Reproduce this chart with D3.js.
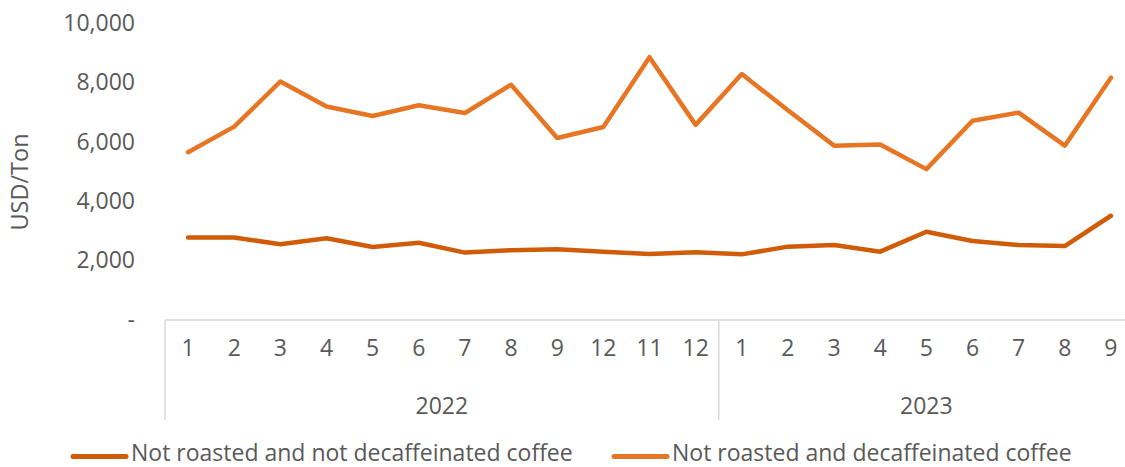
<!DOCTYPE html>
<html><head><meta charset="utf-8">
<script src="https://cdn.jsdelivr.net/npm/d3@7"></script>
<style>body{margin:0;background:#fff}svg{display:block}text{font-family:"Open Sans",sans-serif;fill:#595959}</style>
</head><body><svg id="c" width="1125" height="467"></svg>
<script>
const months = ["1","2","3","4","5","6","7","8","9","12","11","12","1","2","3","4","5","6","7","8","9"];
const years = [{label:"2022", count:12},{label:"2023", count:9}];
const seriesNames = ["Not roasted and not decaffeinated coffee","Not roasted and decaffeinated coffee"];
const notDecaf = [2780,2780,2550,2750,2460,2600,2270,2350,2380,2300,2220,2280,2210,2470,2525,2300,2970,2660,2525,2490,3510];
const decaf = [5650,6510,8030,7190,6870,7230,6970,7920,6130,6500,8850,6570,8280,7060,5870,5910,5080,6710,6980,5870,8160];
const yTicks = [0,2000,4000,6000,8000,10000];
const colors = ["#D15C08","#E77624"];

(function(){
const svg = d3.select("#c");
const mLeft = 165, mRight = 1134, mTop = 23, mBottom = 320;
const fs = "23px";
const x = d3.scaleBand().domain(d3.range(months.length)).range([mLeft,mRight]);
const y = d3.scaleLinear().domain([0,10000]).range([mBottom,mTop]);
const cx = i => x(i) + x.bandwidth()/2;

const yAxis = d3.axisLeft(y).tickValues(yTicks).tickSize(0).tickPadding(30)
  .tickFormat(d => d===0 ? "-" : d3.format(",")(d));
const ga = svg.append("g").attr("transform",`translate(${mLeft},0)`).call(yAxis);
ga.select(".domain").remove();
ga.selectAll("text").style("font-size",fs).attr("fill","#595959").style("font-family","Open Sans");

svg.append("text").attr("transform","translate(28,182) rotate(-90)")
  .attr("text-anchor","middle").style("font-size","23.5px").text("USD/Ton");

const axisColor = "#d9d9d9";
svg.append("line").attr("x1",mLeft).attr("x2",mRight).attr("y1",mBottom).attr("y2",mBottom)
  .attr("stroke",axisColor).attr("stroke-width",1.5);
const xa = d3.axisBottom(x).tickSize(0).tickPadding(20).tickFormat(i => months[i]);
const gx = svg.append("g").attr("transform",`translate(0,${mBottom})`).call(xa);
gx.select(".domain").remove();
gx.selectAll("text").style("font-size",fs).attr("fill","#595959").style("font-family","Open Sans");

let start = 0;
const bounds = [0];
years.forEach(yr => {
  const s = start, e = start + yr.count;
  const xs = x(s), xe = x(e-1) + x.bandwidth();
  svg.append("text").attr("x",(xs+xe)/2).attr("y",414).attr("text-anchor","middle")
    .style("font-size",fs).text(yr.label);
  start = e;
  bounds.push(e);
});
bounds.forEach(b => {
  const xp = b < months.length ? x(b) : mRight;
  svg.append("line").attr("x1",xp).attr("x2",xp).attr("y1",mBottom).attr("y2",420)
    .attr("stroke",axisColor).attr("stroke-width",1.5);
});

[notDecaf, decaf].forEach((vals,k) => {
  const line = d3.line().x((d,i)=>cx(i)).y(d=>y(d));
  svg.append("path").datum(vals).attr("d",line).attr("fill","none")
    .attr("stroke",colors[k]).attr("stroke-width",4.5)
    .attr("stroke-linejoin","round").attr("stroke-linecap","round");
});

const legendX = [72, 613];
seriesNames.forEach((n,k) => {
  const g = svg.append("g").attr("transform",`translate(${legendX[k]},456.5)`);
  g.append("line").attr("x1",1).attr("x2",54).attr("stroke",colors[k]).attr("stroke-width",5).attr("stroke-linecap","round");
  g.append("text").attr("x",59).attr("y",4.5).style("font-size","23px").text(n);
});
})();
</script></body></html>
